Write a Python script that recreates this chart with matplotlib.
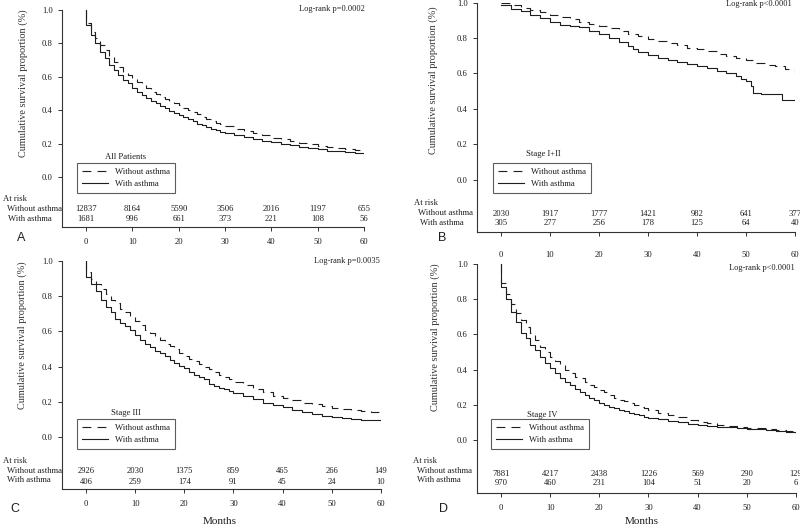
import matplotlib
matplotlib.use('Agg')
import matplotlib.pyplot as plt
from matplotlib import rcParams
from matplotlib.transforms import blended_transform_factory
rcParams.update({"font.family": ["Liberation Serif", "DejaVu Serif"]})

# ---------------- data ----------------
# A: all patients
t_A = [0, 0, 1, 2, 3, 4, 5, 6, 7, 8, 9, 10, 11, 12, 13, 14, 15, 16, 17, 18, 19, 20,
       21, 22, 23, 24, 25, 26, 27, 28, 29, 30, 32, 34, 36, 38, 40, 42, 44, 46, 48,
       50, 52, 54, 56, 58, 60]
s_A_without = [1.0, 0.92, 0.87, 0.83, 0.79, 0.76, 0.72, 0.69, 0.66, 0.63, 0.61, 0.59,
               0.57, 0.55, 0.53, 0.51, 0.495, 0.48, 0.465, 0.45, 0.44, 0.43, 0.415,
               0.40, 0.39, 0.375, 0.36, 0.35, 0.335, 0.325, 0.315, 0.305, 0.29, 0.275,
               0.262, 0.25, 0.235, 0.225, 0.215, 0.205, 0.195, 0.188, 0.18, 0.172,
               0.166, 0.16, 0.155]
s_A_with = [1.0, 0.91, 0.85, 0.80, 0.75, 0.71, 0.67, 0.64, 0.61, 0.58, 0.56, 0.535,
            0.51, 0.49, 0.47, 0.455, 0.44, 0.425, 0.41, 0.395, 0.385, 0.37, 0.36,
            0.345, 0.335, 0.32, 0.31, 0.30, 0.29, 0.28, 0.272, 0.265, 0.252, 0.24,
            0.228, 0.217, 0.207, 0.198, 0.19, 0.182, 0.175, 0.166, 0.157, 0.153,
            0.149, 0.145, 0.14]

# B: stage I+II
t_B_without = [0, 2, 4, 6, 8, 10, 12, 14, 16, 18, 20, 22, 24, 26, 28, 30, 32, 34, 36,
               38, 40, 42, 44, 46, 48, 50, 52, 54, 56, 58, 60]
s_B_without = [0.995, 0.985, 0.97, 0.96, 0.945, 0.93, 0.92, 0.905, 0.89, 0.88, 0.865,
               0.855, 0.84, 0.825, 0.81, 0.795, 0.785, 0.77, 0.76, 0.745, 0.737,
               0.725, 0.712, 0.70, 0.69, 0.675, 0.66, 0.65, 0.64, 0.625, 0.605]
t_B_with = [0, 2, 4, 6, 8, 10, 12, 14, 16, 18, 20, 22, 24, 26, 27, 28, 30, 32, 34, 36,
            38, 40, 42, 44, 46, 48, 49, 50, 51, 51.5, 53, 57.3, 60]
s_B_with = [0.985, 0.965, 0.95, 0.93, 0.91, 0.89, 0.875, 0.868, 0.86, 0.84, 0.82, 0.80,
            0.78, 0.755, 0.74, 0.72, 0.705, 0.69, 0.675, 0.665, 0.655, 0.645, 0.63,
            0.615, 0.60, 0.585, 0.57, 0.56, 0.53, 0.49, 0.482, 0.45, 0.45]

# C: stage III
t_C = [0, 0, 1, 2, 3, 4, 5, 6, 7, 8, 9, 10, 11, 12, 13, 14, 15, 16, 17, 18, 19, 20,
       21, 22, 23, 24, 25, 26, 27, 28, 29, 30, 32, 34, 36, 38, 40, 42, 44, 46, 48,
       50, 52, 54, 56, 58, 60]
s_C_without = [1.0, 0.94, 0.90, 0.87, 0.84, 0.81, 0.78, 0.76, 0.73, 0.71, 0.68, 0.66,
               0.635, 0.61, 0.59, 0.57, 0.55, 0.53, 0.515, 0.50, 0.48, 0.46, 0.445,
               0.43, 0.415, 0.40, 0.385, 0.37, 0.355, 0.34, 0.33, 0.315, 0.295, 0.275,
               0.255, 0.235, 0.222, 0.208, 0.196, 0.185, 0.175, 0.165, 0.158, 0.152,
               0.146, 0.14, 0.136]
s_C_with = [1.0, 0.91, 0.87, 0.83, 0.78, 0.74, 0.71, 0.67, 0.65, 0.63, 0.61, 0.58,
            0.55, 0.53, 0.51, 0.49, 0.475, 0.46, 0.44, 0.42, 0.405, 0.39, 0.37, 0.35,
            0.34, 0.33, 0.30, 0.29, 0.28, 0.272, 0.262, 0.25, 0.232, 0.215, 0.195,
            0.18, 0.168, 0.155, 0.145, 0.132, 0.122, 0.115, 0.108, 0.105, 0.097,
            0.097, 0.097]

# D: stage IV
t_D = t_C
s_D_without = [1.0, 0.89, 0.83, 0.77, 0.72, 0.68, 0.64, 0.61, 0.57, 0.53, 0.50, 0.47,
               0.45, 0.43, 0.40, 0.38, 0.36, 0.35, 0.33, 0.315, 0.30, 0.285, 0.27,
               0.255, 0.24, 0.23, 0.22, 0.21, 0.20, 0.19, 0.18, 0.17, 0.155, 0.14,
               0.128, 0.115, 0.105, 0.095, 0.088, 0.082, 0.076, 0.07, 0.066, 0.062,
               0.058, 0.054, 0.05]
s_D_with = [1.0, 0.87, 0.80, 0.73, 0.67, 0.61, 0.58, 0.54, 0.51, 0.47, 0.44, 0.41,
            0.38, 0.35, 0.33, 0.31, 0.29, 0.27, 0.255, 0.24, 0.225, 0.21, 0.20, 0.19,
            0.18, 0.17, 0.163, 0.155, 0.148, 0.14, 0.132, 0.125, 0.118, 0.11, 0.10,
            0.092, 0.085, 0.08, 0.076, 0.072, 0.068, 0.064, 0.06, 0.057, 0.052,
            0.045, 0.035]

risk_months = [0, 10, 20, 30, 40, 50, 60]
risk_A_without = [12837, 8164, 5590, 3506, 2016, 1197, 655]
risk_A_with = [1681, 996, 661, 373, 221, 108, 56]
risk_B_without = [2030, 1917, 1777, 1421, 982, 641, 377]
risk_B_with = [305, 277, 256, 178, 125, 64, 40]
risk_C_without = [2926, 2030, 1375, 859, 465, 266, 149]
risk_C_with = [406, 259, 174, 91, 45, 24, 10]
risk_D_without = [7881, 4217, 2438, 1226, 569, 290, 129]
risk_D_with = [970, 460, 231, 104, 51, 20, 6]

titles = ['All Patients', 'Stage I+II', 'Stage III', 'Stage IV']
pvals = ['Log-rank p=0.0002', 'Log-rank p<0.0001', 'Log-rank p=0.0035', 'Log-rank p<0.0001']
letters = ['A', 'B', 'C', 'D']

W, H = 800, 526
fig = plt.figure(figsize=(W / 100, H / 100), dpi=100)
INK = '#1e1e1e'
FS = 6.2


def fx(x):
    return x / W


def fy(y):
    return 1 - y / H


panels = [
    dict(box=(62, 364, 10, 227), xmin=-5.18, ymin=-0.30, xpad=5.0,
         t1=t_A, s1=s_A_without, t2=t_A, s2=s_A_with,
         r1=risk_A_without, r2=risk_A_with,
         ylab=(23, 83), pv=(365, 9), let=(21, 238), leg=(77, 163), ttl=(126, 157),
         risk=(3, 199, 7, 209, 8, 219), nums=(209, 219), months=None),
    dict(box=(477, 795, 2.5, 232), xmin=-4.9, ymin=-0.293, xpad=10.8,
         t1=t_B_without, s1=s_B_without, t2=t_B_with, s2=s_B_with,
         r1=risk_B_without, r2=risk_B_with,
         ylab=(433, 80), pv=(792, 4), let=(442, 238), leg=(493, 163), ttl=(543, 154),
         risk=(414, 203, 418, 213, 420, 223), nums=(214, 223), months=None),
    dict(box=(62, 381, 261, 489), xmin=-4.88, ymin=-0.295, xpad=5.0,
         t1=t_C, s1=s_C_without, t2=t_C, s2=s_C_with,
         r1=risk_C_without, r2=risk_C_with,
         ylab=(22, 335), pv=(380, 261), let=(15, 509), leg=(77, 419), ttl=(126, 413),
         risk=(3, 461, 7, 471, 7, 480), nums=(471, 482), months=(220, 522)),
    dict(box=(477, 796, 264, 493), xmin=-4.88, ymin=-0.301, xpad=5.0,
         t1=t_D, s1=s_D_without, t2=t_D, s2=s_D_with,
         r1=risk_D_without, r2=risk_D_with,
         ylab=(435, 337), pv=(795, 268), let=(443, 509), leg=(491, 419), ttl=(542, 415),
         risk=(413, 461, 417, 471, 417, 480), nums=(474, 483), months=(642, 522)),
]

for i, p in enumerate(panels):
    l, r, t, b = p['box']
    ax = fig.add_axes([fx(l), fy(b), fx(r) - fx(l), fy(t) - fy(b)])
    ax.set_xlim(p['xmin'], 60)
    ax.set_ylim(p['ymin'], 1.0)
    for s in ['top', 'right']:
        ax.spines[s].set_visible(False)
    for s in ['left', 'bottom']:
        ax.spines[s].set_linewidth(0.8)
        ax.spines[s].set_color('#333333')
    ax.set_xticks(risk_months)
    ax.set_yticks([0.0, 0.2, 0.4, 0.6, 0.8, 1.0])
    ax.set_yticklabels(['0.0', '0.2', '0.4', '0.6', '0.8', '1.0'])
    ax.tick_params(axis='both', direction='out', length=3, width=0.7,
                   colors='#333333', labelsize=FS, labelcolor=INK)
    ax.tick_params(axis='x', pad=p['xpad'])
    ax.tick_params(axis='y', pad=3.8)
    ax.patch.set_alpha(0)

    l1, = ax.step(p['t1'], p['s1'], where='post', color=INK, lw=0.8,
                  dashes=(8, 5.5), label='Without asthma')
    l2, = ax.step(p['t2'], p['s2'], where='post', color=INK, lw=0.8,
                  label='With asthma')

    # numbers at risk: x in months, y in figure pixels
    tr = blended_transform_factory(ax.transData, fig.transFigure)
    for m, n1, n2 in zip(risk_months, p['r1'], p['r2']):
        ax.text(m, fy(p['nums'][0]), str(n1), transform=tr, ha='center', va='center',
                fontsize=FS, color=INK)
        ax.text(m, fy(p['nums'][1]), str(n2), transform=tr, ha='center', va='center',
                fontsize=FS, color=INK)

    rx, ry, wx1, wy1, wx2, wy2 = p['risk']
    fig.text(fx(rx), fy(ry), 'At risk', ha='left', va='center', fontsize=FS, color=INK)
    fig.text(fx(wx1), fy(wy1), 'Without asthma', ha='left', va='center', fontsize=FS, color=INK)
    fig.text(fx(wx2), fy(wy2), 'With asthma', ha='left', va='center', fontsize=FS, color=INK)

    # legend
    lx, ly = p['leg']
    leg = ax.legend(handles=[l1, l2], loc='upper left',
                    bbox_to_anchor=(fx(lx), fy(ly)), bbox_transform=fig.transFigure,
                    fontsize=FS, frameon=True, fancybox=False, borderpad=0.6,
                    handlelength=3.0, handletextpad=0.8, labelspacing=0.4,
                    borderaxespad=0)
    leg.get_frame().set_edgecolor('#333333')
    leg.get_frame().set_linewidth(0.8)
    for txt in leg.get_texts():
        txt.set_color(INK)
    fig.text(fx(p['ttl'][0]), fy(p['ttl'][1]), titles[i], ha='center', va='center',
             fontsize=FS, color=INK)

    fig.text(fx(p['pv'][0]), fy(p['pv'][1]), pvals[i], ha='right', va='center',
             fontsize=6.0, color=INK)
    fig.text(fx(p['ylab'][0]), fy(p['ylab'][1]), 'Cumulative survival proportion (%)',
             rotation=90, ha='center', va='center', fontsize=7.4, color='#333333')
    fig.text(fx(p['let'][0]), fy(p['let'][1]), letters[i], ha='center', va='center',
             fontsize=9, family='Liberation Sans', color=INK)
    if p['months'] is not None:
        fig.text(fx(p['months'][0]), fy(p['months'][1]), 'Months', ha='center',
                 va='center', fontsize=8, color=INK)

fig.savefig('out.png', dpi=100)
